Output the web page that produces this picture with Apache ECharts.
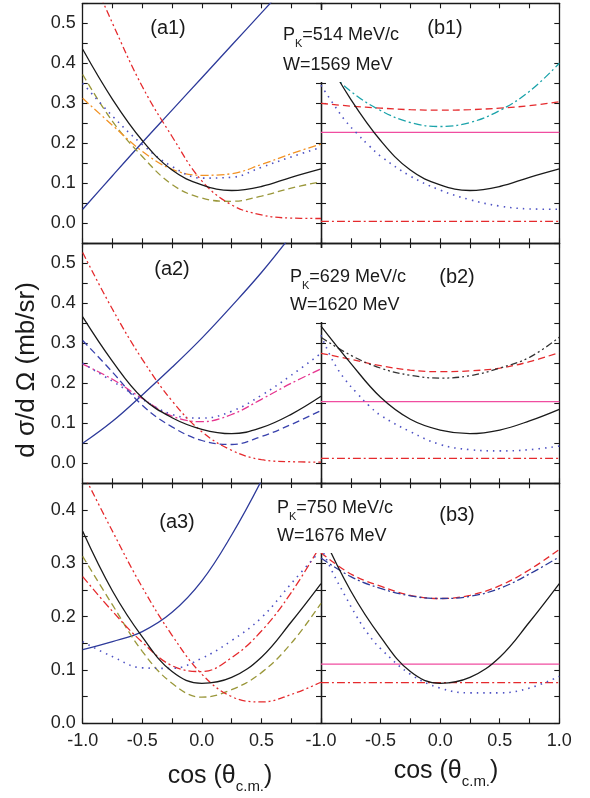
<!DOCTYPE html>
<html><head><meta charset="utf-8">
<script src="https://cdn.jsdelivr.net/npm/echarts@6/dist/echarts.min.js"></script>
<style>html,body{margin:0;padding:0;background:#fff}#c{width:590px;height:798px}</style>
</head><body><div id="c"></div><script>
// ---------- data ----------
const cosT = [-1, -0.75, -0.5, -0.25, 0, 0.25, 0.5, 0.75, 1];
const cosTSteep = [-1, -0.9, -0.8, -0.7, -0.6, -0.5, -0.25, 0, 0.25, 0.5, 0.75, 1];
const cosTEnds = [-1, 1];

// panel (a1)
const a1Navy   = [0.035, 0.119, 0.202, 0.283, 0.364, 0.445, 0.526, 0.607, 0.688];
const a1Black  = [0.435, 0.31, 0.207, 0.133, 0.096, 0.082, 0.092, 0.115, 0.136];
const a1RedDdd = [0.67, 0.50, 0.342, 0.217, 0.106, 0.046, 0.021, 0.013, 0.012];
const a1Olive  = [0.372, 0.255, 0.167, 0.097, 0.063, 0.055, 0.068, 0.088, 0.104];
const a1Orange = [0.3125, 0.245, 0.18, 0.135, 0.12, 0.124, 0.147, 0.174, 0.198];
const a1BlueDot= [0.35, 0.268, 0.197, 0.142, 0.113, 0.115, 0.14, 0.166, 0.19];
// panel (b1)
const b1Pink    = [0.2275, 0.2275];
const b1RedDash = [0.30, 0.293, 0.288, 0.284, 0.283, 0.284, 0.288, 0.294, 0.304];
const b1Teal    = [0.40, 0.33, 0.282, 0.252, 0.242, 0.252, 0.282, 0.33, 0.40];
const b1Black   = [0.435, 0.31, 0.207, 0.133, 0.096, 0.082, 0.092, 0.115, 0.136];
const b1BlueDot = [0.345, 0.30, 0.258, 0.225, 0.195, 0.168, 0.118, 0.083, 0.059, 0.043, 0.036, 0.035];
const b1RedDashDot = [0.005, 0.005];
// panel (a2)
const a2Navy    = [0.05, 0.105, 0.171, 0.24, 0.313, 0.393, 0.477, 0.57, 0.67];
const a2Black   = [0.366, 0.255, 0.164, 0.114, 0.085, 0.074, 0.089, 0.1225, 0.1675];
const a2RedDdd  = [0.527, 0.385, 0.26, 0.156, 0.079, 0.0325, 0.009, 0.004, 0.003];
const a2BlueDash= [0.307, 0.228, 0.145, 0.091, 0.057, 0.047, 0.067, 0.097, 0.132];
const a2Magenta = [0.248, 0.21, 0.162, 0.118, 0.104, 0.122, 0.16, 0.2, 0.236];
const a2BlueDot = [0.25, 0.205, 0.16, 0.122, 0.113, 0.13, 0.17, 0.22, 0.275];
// panel (b2)
const b2Pink    = [0.154, 0.154];
const b2RedDashDot = [0.0125, 0.0125];
const b2Black   = [0.343, 0.25, 0.165, 0.11, 0.083, 0.074, 0.083, 0.106, 0.135];
const b2DarkDdd = [0.315, 0.27, 0.238, 0.22, 0.213, 0.219, 0.238, 0.265, 0.315];
const b2RedDash = [0.275, 0.26, 0.244, 0.233, 0.229, 0.231, 0.238, 0.254, 0.277];
const b2BlueDot = [0.32, 0.256, 0.21, 0.176, 0.145, 0.12, 0.079, 0.047, 0.034, 0.031, 0.034, 0.043];
// panel (a3)
const a3Navy    = [0.138, 0.153, 0.172, 0.208, 0.267, 0.353, 0.455, 0.57, 0.69];
const a3Black   = [0.36, 0.248, 0.162, 0.097, 0.075, 0.086, 0.124, 0.19, 0.262];
const a3RedDdd  = [0.47, 0.36, 0.255, 0.165, 0.092, 0.05, 0.04, 0.054, 0.077];
const a3RedDashDot = [0.275, 0.21, 0.152, 0.108, 0.097, 0.123, 0.173, 0.245, 0.335];
const a3Olive   = [0.313, 0.222, 0.135, 0.075, 0.049, 0.063, 0.095, 0.15, 0.225];
const a3BlueDot = [0.153, 0.125, 0.104, 0.103, 0.122, 0.155, 0.198, 0.262, 0.325];
// panel (b3)
const b3Pink    = [0.111, 0.111];
const b3RedDashDot = [0.0764, 0.0764];
const b3Black   = [0.36, 0.248, 0.162, 0.097, 0.075, 0.086, 0.124, 0.19, 0.262];
const b3RedDash = [0.32, 0.28, 0.257, 0.24, 0.234, 0.24, 0.258, 0.288, 0.326];
const b3NavyDashDot = [0.31, 0.275, 0.253, 0.239, 0.234, 0.238, 0.253, 0.28, 0.312];
const b3BlueDot = [0.33, 0.282, 0.24, 0.2, 0.166, 0.14, 0.092, 0.066, 0.057, 0.057, 0.066, 0.088];

// texts
const panelLabels = ['(a1)', '(b1)', '(a2)', '(b2)', '(a3)', '(b3)'];
const pKValues = ['514', '629', '750'];
const wValues = ['1569', '1620', '1676'];
const yTitle = 'd σ/d Ω (mb/sr)';
const xTitleMain = 'cos (θ';
const xTitleSub = 'c.m.';

// ---------- styles & layout ----------
const FONT = '"Liberation Sans", Arial, Helvetica, sans-serif';
const COL = { black:'#1a1a1a', navy:'#2D3A9A', red:'#E52A2D', olive:'#9A973A', orange:'#F29224',
  blue:'#4E52C4', teal:'#1BA3AA', pink:'#F04DA0', magenta:'#E6358F', blueDash:'#3841AC', dark:'#333333' };
const DASH = { solid:'solid', dash:[7,4], dashDot:[8,3,2,3], ddd:[7,3,2,3,2,3], dot:[1.5,5] };

const colLeft = [82.7, 321];
const rowTop = [3.3, 243.3, 483.3];
const PW = 238.3, PH = 240;

function S(xs, ys, color, dash, w) { return { xs, ys, color, dash, w: w || 1.3 }; }

const panels = [
  { col:0, row:0, curves:[
    S(cosT, a1Navy, COL.navy, DASH.solid),
    S(cosT, a1Olive, COL.olive, DASH.dash),
    S(cosT, a1Orange, COL.orange, DASH.dashDot),
    S(cosT, a1BlueDot, COL.blue, DASH.dot, 1.6),
    S(cosT, a1RedDdd, COL.red, DASH.ddd),
    S(cosT, a1Black, COL.black, DASH.solid) ]},
  { col:1, row:0, curves:[
    S(cosTEnds, b1Pink, COL.pink, DASH.solid),
    S(cosT, b1RedDash, COL.red, DASH.dash),
    S(cosT, b1Teal, COL.teal, DASH.dashDot),
    S(cosTSteep, b1BlueDot, COL.blue, DASH.dot, 1.6),
    S(cosTEnds, b1RedDashDot, COL.red, DASH.dashDot),
    S(cosT, b1Black, COL.black, DASH.solid) ]},
  { col:0, row:1, curves:[
    S(cosT, a2Navy, COL.navy, DASH.solid),
    S(cosT, a2BlueDash, COL.blueDash, DASH.dash),
    S(cosT, a2Magenta, COL.magenta, DASH.dashDot),
    S(cosT, a2BlueDot, COL.blue, DASH.dot, 1.6),
    S(cosT, a2RedDdd, COL.red, DASH.ddd),
    S(cosT, a2Black, COL.black, DASH.solid) ]},
  { col:1, row:1, curves:[
    S(cosTEnds, b2Pink, COL.pink, DASH.solid),
    S(cosTEnds, b2RedDashDot, COL.red, DASH.dashDot),
    S(cosT, b2RedDash, COL.red, DASH.dash),
    S(cosT, b2DarkDdd, COL.dark, DASH.ddd),
    S(cosTSteep, b2BlueDot, COL.blue, DASH.dot, 1.6),
    S(cosT, b2Black, COL.black, DASH.solid) ]},
  { col:0, row:2, curves:[
    S(cosT, a3Navy, COL.navy, DASH.solid),
    S(cosT, a3Olive, COL.olive, DASH.dash),
    S(cosT, a3RedDashDot, COL.red, DASH.dashDot),
    S(cosT, a3BlueDot, COL.blue, DASH.dot, 1.6),
    S(cosT, a3RedDdd, COL.red, DASH.ddd),
    S(cosT, a3Black, COL.black, DASH.solid) ]},
  { col:1, row:2, curves:[
    S(cosTEnds, b3Pink, COL.pink, DASH.solid),
    S(cosTEnds, b3RedDashDot, COL.red, DASH.dashDot),
    S(cosT, b3RedDash, COL.red, DASH.dash),
    S(cosT, b3NavyDashDot, COL.navy, DASH.dashDot),
    S(cosTSteep, b3BlueDot, COL.blue, DASH.dot, 1.6),
    S(cosT, b3Black, COL.black, DASH.solid) ]}
];

const grid = [], xAxis = [], yAxis = [], series = [];
const axisLine = { show:true, onZero:false, lineStyle:{ color:'#1a1a1a', width:1.3 } };
const axisTick = { show:true, inside:true, length:5, lineStyle:{ color:'#1a1a1a', width:1.1 } };

panels.forEach((p, gi) => {
  grid.push({ left: colLeft[p.col], top: rowTop[p.row], width: PW, height: PH, containLabel:false });
  const showX = p.row === 2;
  const xb = xAxis.length;
  xAxis.push({ gridIndex: gi, type:'value', min:-1, max:1, interval:0.25, position:'bottom',
    axisLine, axisTick, splitLine:{show:false},
    axisLabel:{ show: showX, fontSize:18, fontFamily:FONT, color:'#222', margin:9,
      formatter: v => { const r = Math.round(v*100); if (r % 50 !== 0) return ''; if (p.col === 0 && r === 100) return ''; return (r/100).toFixed(1); } } });
  xAxis.push({ gridIndex: gi, type:'value', min:-1, max:1, interval:0.25, position:'top',
    axisLine, axisTick, splitLine:{show:false}, axisLabel:{show:false} });
  const yl = yAxis.length;
  const yr = p.row < 2 ? { min:-0.05, max:0.55 } : { min:0, max:0.45 };
  yAxis.push({ gridIndex: gi, type:'value', min: yr.min, max: yr.max, interval:0.05, position:'left',
    axisLine, axisTick, splitLine:{show:false},
    axisLabel:{ show: p.col === 0, fontSize:18, fontFamily:FONT, color:'#222', margin:7,
      formatter: v => { const r = Math.round(v*100); if (r % 10 !== 0) return ''; return (r/100).toFixed(1); } } });
  yAxis.push({ gridIndex: gi, type:'value', min: yr.min, max: yr.max, interval:0.05, position:'right',
    axisLine, axisTick, splitLine:{show:false}, axisLabel:{show:false} });
  p.curves.forEach(c => {
    series.push({ type:'line', xAxisIndex: xb, yAxisIndex: yl, silent:true, clip:true,
      data: c.xs.map((x, i) => [x, c.ys[i]]), smooth: 0.4, symbol:'none', showSymbol:false,
      lineStyle:{ color:c.color, width:c.w, type:c.dash }, z:3 });
  });
});

// text helpers
const mctx = document.createElement('canvas').getContext('2d');
function tw(t, size) { mctx.font = size + 'px ' + FONT; return mctx.measureText(t).width; }
function txt(t, x, y, size, align, z) {
  return { type:'text', x, y, z: z || 110, silent:true,
    style:{ text:t, fill:'#1a1a1a', font: size + 'px ' + FONT, fontSize:size, fontFamily:FONT,
      align: align || 'left', verticalAlign:'middle', textAlign: align || 'left', textVerticalAlign:'middle' } };
}
function run(parts, x, y, center) {
  let total = parts.reduce((s, q) => s + tw(q.t, q.s), 0);
  let cx = center ? x - total / 2 : x;
  const out = [];
  parts.forEach(q => { out.push(txt(q.t, cx, y + (q.dy || 0), q.s, 'left')); cx += tw(q.t, q.s); });
  return out;
}

const graphic = [];
// white boxes hiding the frame behind the kinematics text
const boxes = [ [279, 10, 128, 72], [286, 248, 130, 74], [273, 488, 130, 65] ];
boxes.forEach(b => graphic.push({ type:'rect', z:100, silent:true, shape:{ x:b[0], y:b[1], width:b[2], height:b[3] }, style:{ fill:'#ffffff' } }));
const kinPos = [ [283, 35, 65], [290, 277, 305], [277, 508, 536] ];
kinPos.forEach((k, i) => {
  graphic.push(...run([{t:'P', s:18}, {t:'K', s:11, dy:9}, {t:'=' + pKValues[i] + ' MeV/c', s:18}], k[0], k[1], false));
  graphic.push(txt('W=' + wValues[i] + ' MeV', k[0], k[2], 18, 'left'));
});
const labPos = [ [168, 28], [445, 28], [172, 269], [457, 277], [177, 522], [457, 515] ];
labPos.forEach((q, i) => graphic.push(txt(panelLabels[i], q[0], q[1], 20, 'center')));
// axis titles
graphic.push({ type:'text', x:27, y:370, rotation: Math.PI/2, z:110, silent:true,
  style:{ text:yTitle, fill:'#1a1a1a', font:'26px ' + FONT, align:'center', verticalAlign:'middle', textAlign:'center', textVerticalAlign:'middle' } });
graphic.push(...run([{t:xTitleMain, s:25}, {t:xTitleSub, s:15, dy:11}, {t:')', s:25}], 220, 776, true));
graphic.push(...run([{t:xTitleMain, s:25}, {t:xTitleSub, s:15, dy:11}, {t:')', s:25}], 446, 771, true));

const chart = echarts.init(document.getElementById('c'), null, { renderer:'canvas' });
chart.setOption({ animation:false, backgroundColor:'#ffffff', grid, xAxis, yAxis, series, graphic });
</script></body></html>
